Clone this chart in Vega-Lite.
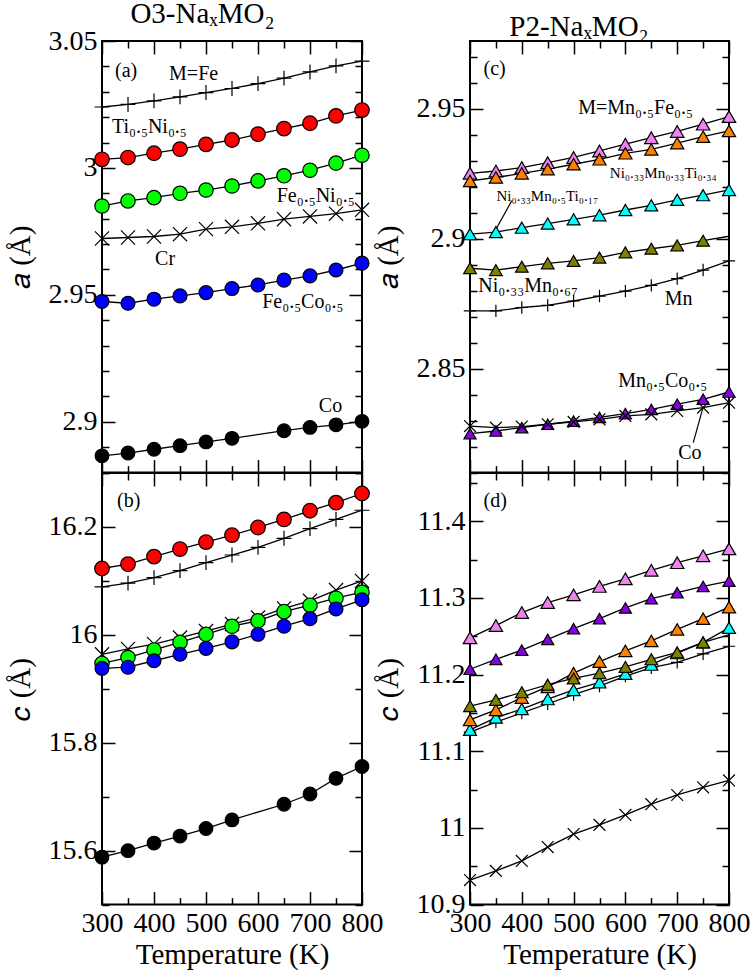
{
  "$schema": "https://vega.github.io/schema/vega-lite/v6.json",
  "padding": {"left": 5, "top": 0, "right": 0, "bottom": 0},
  "config": {
    "font": "Liberation Serif",
    "view": {"stroke": "black", "strokeWidth": 2},
    "axis": {"domain": false, "grid": false, "tickColor": "black", "tickWidth": 1.5, "labelFont": "Liberation Serif", "labelFontSize": 28, "labelColor": "black", "titleFont": "Liberation Serif", "titleFontSize": 29, "titleFontWeight": "normal", "titleColor": "black", "labelOverlap": false, "labelFlush": false, "labelBound": false},
    "title": {"font": "Liberation Serif", "fontSize": 29, "fontWeight": "normal", "color": "black"},
    "text": {"font": "Liberation Serif", "color": "black"}
  },
  "datasets": {
    "pts": [
      {"p":"a","s":"Fe","T":300,"v":3.0240},{"p":"a","s":"Fe","T":350,"v":3.0250},{"p":"a","s":"Fe","T":400,"v":3.0264},{"p":"a","s":"Fe","T":450,"v":3.0280},{"p":"a","s":"Fe","T":500,"v":3.0297},{"p":"a","s":"Fe","T":550,"v":3.0313},{"p":"a","s":"Fe","T":600,"v":3.0332},{"p":"a","s":"Fe","T":650,"v":3.0354},{"p":"a","s":"Fe","T":700,"v":3.0378},{"p":"a","s":"Fe","T":750,"v":3.0402},{"p":"a","s":"Fe","T":800,"v":3.0421},
      {"p":"a","s":"TiNi","T":300,"v":3.0034},{"p":"a","s":"TiNi","T":350,"v":3.0041},{"p":"a","s":"TiNi","T":400,"v":3.0058},{"p":"a","s":"TiNi","T":450,"v":3.0074},{"p":"a","s":"TiNi","T":500,"v":3.0093},{"p":"a","s":"TiNi","T":550,"v":3.0110},{"p":"a","s":"TiNi","T":600,"v":3.0133},{"p":"a","s":"TiNi","T":650,"v":3.0155},{"p":"a","s":"TiNi","T":700,"v":3.0176},{"p":"a","s":"TiNi","T":750,"v":3.0205},{"p":"a","s":"TiNi","T":800,"v":3.0228},
      {"p":"a","s":"FeNi","T":300,"v":2.9850},{"p":"a","s":"FeNi","T":350,"v":2.9870},{"p":"a","s":"FeNi","T":400,"v":2.9883},{"p":"a","s":"FeNi","T":450,"v":2.9900},{"p":"a","s":"FeNi","T":500,"v":2.9913},{"p":"a","s":"FeNi","T":550,"v":2.9929},{"p":"a","s":"FeNi","T":600,"v":2.9949},{"p":"a","s":"FeNi","T":650,"v":2.9969},{"p":"a","s":"FeNi","T":700,"v":2.9991},{"p":"a","s":"FeNi","T":750,"v":3.0019},{"p":"a","s":"FeNi","T":800,"v":3.0050},
      {"p":"a","s":"Cr","T":300,"v":2.9722},{"p":"a","s":"Cr","T":350,"v":2.9726},{"p":"a","s":"Cr","T":400,"v":2.9730},{"p":"a","s":"Cr","T":450,"v":2.9739},{"p":"a","s":"Cr","T":500,"v":2.9759},{"p":"a","s":"Cr","T":550,"v":2.9768},{"p":"a","s":"Cr","T":600,"v":2.9782},{"p":"a","s":"Cr","T":650,"v":2.9798},{"p":"a","s":"Cr","T":700,"v":2.9809},{"p":"a","s":"Cr","T":750,"v":2.9820},{"p":"a","s":"Cr","T":800,"v":2.9835},
      {"p":"a","s":"FeCo","T":300,"v":2.9474},{"p":"a","s":"FeCo","T":350,"v":2.9467},{"p":"a","s":"FeCo","T":400,"v":2.9483},{"p":"a","s":"FeCo","T":450,"v":2.9496},{"p":"a","s":"FeCo","T":500,"v":2.9509},{"p":"a","s":"FeCo","T":550,"v":2.9525},{"p":"a","s":"FeCo","T":600,"v":2.9539},{"p":"a","s":"FeCo","T":650,"v":2.9558},{"p":"a","s":"FeCo","T":700,"v":2.9575},{"p":"a","s":"FeCo","T":750,"v":2.9598},{"p":"a","s":"FeCo","T":800,"v":2.9625},
      {"p":"a","s":"Co","T":300,"v":2.8866},{"p":"a","s":"Co","T":350,"v":2.8877},{"p":"a","s":"Co","T":400,"v":2.8892},{"p":"a","s":"Co","T":450,"v":2.8906},{"p":"a","s":"Co","T":500,"v":2.8921},{"p":"a","s":"Co","T":550,"v":2.8935},{"p":"a","s":"Co","T":650,"v":2.8965},{"p":"a","s":"Co","T":700,"v":2.8978},{"p":"a","s":"Co","T":750,"v":2.8988},{"p":"a","s":"Co","T":800,"v":2.9002},

      {"p":"b","s":"TiNi","T":300,"v":16.123},{"p":"b","s":"TiNi","T":350,"v":16.131},{"p":"b","s":"TiNi","T":400,"v":16.145},{"p":"b","s":"TiNi","T":450,"v":16.159},{"p":"b","s":"TiNi","T":500,"v":16.172},{"p":"b","s":"TiNi","T":550,"v":16.185},{"p":"b","s":"TiNi","T":600,"v":16.199},{"p":"b","s":"TiNi","T":650,"v":16.214},{"p":"b","s":"TiNi","T":700,"v":16.230},{"p":"b","s":"TiNi","T":750,"v":16.245},{"p":"b","s":"TiNi","T":800,"v":16.262},
      {"p":"b","s":"Fe","T":300,"v":16.089},{"p":"b","s":"Fe","T":350,"v":16.096},{"p":"b","s":"Fe","T":400,"v":16.106},{"p":"b","s":"Fe","T":450,"v":16.119},{"p":"b","s":"Fe","T":500,"v":16.134},{"p":"b","s":"Fe","T":550,"v":16.148},{"p":"b","s":"Fe","T":600,"v":16.162},{"p":"b","s":"Fe","T":650,"v":16.179},{"p":"b","s":"Fe","T":700,"v":16.197},{"p":"b","s":"Fe","T":750,"v":16.214},{"p":"b","s":"Fe","T":800,"v":16.231},
      {"p":"b","s":"Cr","T":300,"v":15.964},{"p":"b","s":"Cr","T":350,"v":15.974},{"p":"b","s":"Cr","T":400,"v":15.983},{"p":"b","s":"Cr","T":450,"v":15.995},{"p":"b","s":"Cr","T":500,"v":16.007},{"p":"b","s":"Cr","T":550,"v":16.020},{"p":"b","s":"Cr","T":600,"v":16.032},{"p":"b","s":"Cr","T":650,"v":16.049},{"p":"b","s":"Cr","T":700,"v":16.063},{"p":"b","s":"Cr","T":750,"v":16.083},{"p":"b","s":"Cr","T":800,"v":16.100},
      {"p":"b","s":"FeNi","T":300,"v":15.947},{"p":"b","s":"FeNi","T":350,"v":15.958},{"p":"b","s":"FeNi","T":400,"v":15.972},{"p":"b","s":"FeNi","T":450,"v":15.986},{"p":"b","s":"FeNi","T":500,"v":16.001},{"p":"b","s":"FeNi","T":550,"v":16.016},{"p":"b","s":"FeNi","T":600,"v":16.026},{"p":"b","s":"FeNi","T":650,"v":16.043},{"p":"b","s":"FeNi","T":700,"v":16.055},{"p":"b","s":"FeNi","T":750,"v":16.068},{"p":"b","s":"FeNi","T":800,"v":16.079},
      {"p":"b","s":"FeCo","T":300,"v":15.938},{"p":"b","s":"FeCo","T":350,"v":15.940},{"p":"b","s":"FeCo","T":400,"v":15.952},{"p":"b","s":"FeCo","T":450,"v":15.964},{"p":"b","s":"FeCo","T":500,"v":15.975},{"p":"b","s":"FeCo","T":550,"v":15.987},{"p":"b","s":"FeCo","T":600,"v":16.001},{"p":"b","s":"FeCo","T":650,"v":16.016},{"p":"b","s":"FeCo","T":700,"v":16.030},{"p":"b","s":"FeCo","T":750,"v":16.048},{"p":"b","s":"FeCo","T":800,"v":16.065},
      {"p":"b","s":"Co","T":300,"v":15.588},{"p":"b","s":"Co","T":350,"v":15.600},{"p":"b","s":"Co","T":400,"v":15.614},{"p":"b","s":"Co","T":450,"v":15.627},{"p":"b","s":"Co","T":500,"v":15.641},{"p":"b","s":"Co","T":550,"v":15.657},{"p":"b","s":"Co","T":650,"v":15.686},{"p":"b","s":"Co","T":700,"v":15.705},{"p":"b","s":"Co","T":750,"v":15.734},{"p":"b","s":"Co","T":800,"v":15.756},

      {"p":"c","s":"MnFe","T":300,"v":2.9251},{"p":"c","s":"MnFe","T":350,"v":2.9260},{"p":"c","s":"MnFe","T":400,"v":2.9273},{"p":"c","s":"MnFe","T":450,"v":2.9292},{"p":"c","s":"MnFe","T":500,"v":2.9312},{"p":"c","s":"MnFe","T":550,"v":2.9337},{"p":"c","s":"MnFe","T":600,"v":2.9363},{"p":"c","s":"MnFe","T":650,"v":2.9388},{"p":"c","s":"MnFe","T":700,"v":2.9412},{"p":"c","s":"MnFe","T":750,"v":2.9440},{"p":"c","s":"MnFe","T":800,"v":2.9469},
      {"p":"c","s":"NiMnTi34","T":300,"v":2.9222},{"p":"c","s":"NiMnTi34","T":350,"v":2.9235},{"p":"c","s":"NiMnTi34","T":400,"v":2.9251},{"p":"c","s":"NiMnTi34","T":450,"v":2.9267},{"p":"c","s":"NiMnTi34","T":500,"v":2.9286},{"p":"c","s":"NiMnTi34","T":550,"v":2.9305},{"p":"c","s":"NiMnTi34","T":600,"v":2.9328},{"p":"c","s":"NiMnTi34","T":650,"v":2.9343},{"p":"c","s":"NiMnTi34","T":700,"v":2.9367},{"p":"c","s":"NiMnTi34","T":750,"v":2.9392},{"p":"c","s":"NiMnTi34","T":800,"v":2.9414},
      {"p":"c","s":"NiMnTi17","T":300,"v":2.9017},{"p":"c","s":"NiMnTi17","T":350,"v":2.9025},{"p":"c","s":"NiMnTi17","T":400,"v":2.9042},{"p":"c","s":"NiMnTi17","T":450,"v":2.9058},{"p":"c","s":"NiMnTi17","T":500,"v":2.9074},{"p":"c","s":"NiMnTi17","T":550,"v":2.9090},{"p":"c","s":"NiMnTi17","T":600,"v":2.9110},{"p":"c","s":"NiMnTi17","T":650,"v":2.9128},{"p":"c","s":"NiMnTi17","T":700,"v":2.9149},{"p":"c","s":"NiMnTi17","T":750,"v":2.9167},{"p":"c","s":"NiMnTi17","T":800,"v":2.9187},
      {"p":"c","s":"NiMn","T":300,"v":2.8886},{"p":"c","s":"NiMn","T":350,"v":2.8879},{"p":"c","s":"NiMn","T":400,"v":2.8892},{"p":"c","s":"NiMn","T":450,"v":2.8905},{"p":"c","s":"NiMn","T":500,"v":2.8914},{"p":"c","s":"NiMn","T":550,"v":2.8927},{"p":"c","s":"NiMn","T":600,"v":2.8947},{"p":"c","s":"NiMn","T":650,"v":2.8961},{"p":"c","s":"NiMn","T":700,"v":2.8974},{"p":"c","s":"NiMn","T":750,"v":2.8992},{"p":"c","s":"NiMn","T":800,"v":2.9009},
      {"p":"c","s":"Mn","T":300,"v":2.8722},{"p":"c","s":"Mn","T":350,"v":2.8722},{"p":"c","s":"Mn","T":400,"v":2.8735},{"p":"c","s":"Mn","T":450,"v":2.8743},{"p":"c","s":"Mn","T":500,"v":2.8760},{"p":"c","s":"Mn","T":550,"v":2.8779},{"p":"c","s":"Mn","T":600,"v":2.8798},{"p":"c","s":"Mn","T":650,"v":2.8820},{"p":"c","s":"Mn","T":700,"v":2.8846},{"p":"c","s":"Mn","T":750,"v":2.8879},{"p":"c","s":"Mn","T":800,"v":2.8914},
      {"p":"c","s":"MnCo","T":300,"v":2.8250},{"p":"c","s":"MnCo","T":350,"v":2.8260},{"p":"c","s":"MnCo","T":400,"v":2.8273},{"p":"c","s":"MnCo","T":450,"v":2.8286},{"p":"c","s":"MnCo","T":500,"v":2.8298},{"p":"c","s":"MnCo","T":550,"v":2.8312},{"p":"c","s":"MnCo","T":600,"v":2.8327},{"p":"c","s":"MnCo","T":650,"v":2.8343},{"p":"c","s":"MnCo","T":700,"v":2.8363},{"p":"c","s":"MnCo","T":750,"v":2.8382},{"p":"c","s":"MnCo","T":800,"v":2.8410},
      {"p":"c","s":"CoP","T":300,"v":2.8279},{"p":"c","s":"CoP","T":350,"v":2.8273},{"p":"c","s":"CoP","T":400,"v":2.8277},{"p":"c","s":"CoP","T":450,"v":2.8286},{"p":"c","s":"CoP","T":500,"v":2.8295},{"p":"c","s":"CoP","T":550,"v":2.8305},{"p":"c","s":"CoP","T":600,"v":2.8318},{"p":"c","s":"CoP","T":650,"v":2.8324},{"p":"c","s":"CoP","T":700,"v":2.8337},{"p":"c","s":"CoP","T":750,"v":2.8350},{"p":"c","s":"CoP","T":800,"v":2.8369},

      {"p":"d","s":"MnFe","T":300,"v":11.248},{"p":"d","s":"MnFe","T":350,"v":11.264},{"p":"d","s":"MnFe","T":400,"v":11.281},{"p":"d","s":"MnFe","T":450,"v":11.294},{"p":"d","s":"MnFe","T":500,"v":11.304},{"p":"d","s":"MnFe","T":550,"v":11.315},{"p":"d","s":"MnFe","T":600,"v":11.325},{"p":"d","s":"MnFe","T":650,"v":11.336},{"p":"d","s":"MnFe","T":700,"v":11.346},{"p":"d","s":"MnFe","T":750,"v":11.355},{"p":"d","s":"MnFe","T":800,"v":11.364},
      {"p":"d","s":"MnCo","T":300,"v":11.207},{"p":"d","s":"MnCo","T":350,"v":11.220},{"p":"d","s":"MnCo","T":400,"v":11.232},{"p":"d","s":"MnCo","T":450,"v":11.246},{"p":"d","s":"MnCo","T":500,"v":11.260},{"p":"d","s":"MnCo","T":550,"v":11.273},{"p":"d","s":"MnCo","T":600,"v":11.287},{"p":"d","s":"MnCo","T":650,"v":11.299},{"p":"d","s":"MnCo","T":700,"v":11.307},{"p":"d","s":"MnCo","T":750,"v":11.315},{"p":"d","s":"MnCo","T":800,"v":11.322},
      {"p":"d","s":"Mn","T":300,"v":11.125},{"p":"d","s":"Mn","T":350,"v":11.138},{"p":"d","s":"Mn","T":400,"v":11.150},{"p":"d","s":"Mn","T":450,"v":11.162},{"p":"d","s":"Mn","T":500,"v":11.174},{"p":"d","s":"Mn","T":550,"v":11.185},{"p":"d","s":"Mn","T":600,"v":11.198},{"p":"d","s":"Mn","T":650,"v":11.209},{"p":"d","s":"Mn","T":700,"v":11.216},{"p":"d","s":"Mn","T":750,"v":11.227},{"p":"d","s":"Mn","T":800,"v":11.237},
      {"p":"d","s":"NiMnTi17","T":300,"v":11.128},{"p":"d","s":"NiMnTi17","T":350,"v":11.144},{"p":"d","s":"NiMnTi17","T":400,"v":11.155},{"p":"d","s":"NiMnTi17","T":450,"v":11.168},{"p":"d","s":"NiMnTi17","T":500,"v":11.180},{"p":"d","s":"NiMnTi17","T":550,"v":11.190},{"p":"d","s":"NiMnTi17","T":600,"v":11.201},{"p":"d","s":"NiMnTi17","T":650,"v":11.213},{"p":"d","s":"NiMnTi17","T":700,"v":11.228},{"p":"d","s":"NiMnTi17","T":750,"v":11.242},{"p":"d","s":"NiMnTi17","T":800,"v":11.261},
      {"p":"d","s":"NiMnTi34","T":300,"v":11.141},{"p":"d","s":"NiMnTi34","T":350,"v":11.154},{"p":"d","s":"NiMnTi34","T":400,"v":11.170},{"p":"d","s":"NiMnTi34","T":450,"v":11.184},{"p":"d","s":"NiMnTi34","T":500,"v":11.202},{"p":"d","s":"NiMnTi34","T":550,"v":11.217},{"p":"d","s":"NiMnTi34","T":600,"v":11.231},{"p":"d","s":"NiMnTi34","T":650,"v":11.244},{"p":"d","s":"NiMnTi34","T":700,"v":11.259},{"p":"d","s":"NiMnTi34","T":750,"v":11.273},{"p":"d","s":"NiMnTi34","T":800,"v":11.288},
      {"p":"d","s":"NiMn","T":300,"v":11.159},{"p":"d","s":"NiMn","T":350,"v":11.167},{"p":"d","s":"NiMn","T":400,"v":11.177},{"p":"d","s":"NiMn","T":450,"v":11.187},{"p":"d","s":"NiMn","T":500,"v":11.195},{"p":"d","s":"NiMn","T":550,"v":11.202},{"p":"d","s":"NiMn","T":600,"v":11.210},{"p":"d","s":"NiMn","T":650,"v":11.220},{"p":"d","s":"NiMn","T":700,"v":11.229},{"p":"d","s":"NiMn","T":750,"v":11.242},{"p":"d","s":"NiMn","T":800,"v":11.252},
      {"p":"d","s":"CoP","T":300,"v":10.932},{"p":"d","s":"CoP","T":350,"v":10.944},{"p":"d","s":"CoP","T":400,"v":10.957},{"p":"d","s":"CoP","T":450,"v":10.975},{"p":"d","s":"CoP","T":500,"v":10.992},{"p":"d","s":"CoP","T":550,"v":11.004},{"p":"d","s":"CoP","T":600,"v":11.017},{"p":"d","s":"CoP","T":650,"v":11.031},{"p":"d","s":"CoP","T":700,"v":11.043},{"p":"d","s":"CoP","T":750,"v":11.053},{"p":"d","s":"CoP","T":800,"v":11.062}
    ],
    "lab": [
      {"p":"a","T":325,"v":3.038,"t":"(a)","k":"n"},
      {"p":"a","T":429,"v":3.0369,"t":"M=Fe","k":"n"},
      {"p":"a","T":319,"v":3.016,"t":"Ti₀.₅Ni₀.₅","k":"n"},
      {"p":"a","T":636,"v":2.9889,"t":"Fe₀.₅Ni₀.₅","k":"n"},
      {"p":"a","T":402,"v":2.964,"t":"Cr","k":"n"},
      {"p":"a","T":608,"v":2.947,"t":"Fe₀.₅Co₀.₅","k":"n"},
      {"p":"a","T":717,"v":2.9063,"t":"Co","k":"n"},
      {"p":"b","T":329,"v":16.248,"t":"(b)","k":"n"},
      {"p":"c","T":326,"v":2.9651,"t":"(c)","k":"n"},
      {"p":"c","T":509,"v":2.9504,"t":"M=Mn₀.₅Fe₀.₅","k":"n"},
      {"p":"c","T":570,"v":2.9254,"t":"Ni₀.₃₃Mn₀.₃₃Ti₀.₃₄","k":"s"},
      {"p":"c","T":351,"v":2.9164,"t":"Ni₀.₃₃Mn₀.₅Ti₀.₁₇","k":"s"},
      {"p":"c","T":316,"v":2.8818,"t":"Ni₀.₃₃Mn₀.₆₇","k":"n"},
      {"p":"c","T":676,"v":2.8767,"t":"Mn","k":"n"},
      {"p":"c","T":586,"v":2.8452,"t":"Mn₀.₅Co₀.₅","k":"n"},
      {"p":"c","T":702,"v":2.8174,"t":"Co","k":"n"},
      {"p":"d","T":326,"v":11.426,"t":"(d)","k":"n"}
    ],
    "lead": [
      {"p":"c","T":380.6,"v":2.9145,"T2":351.6,"v2":2.9042},
      {"p":"c","T":731,"v":2.8215,"T2":750.6,"v2":2.8356}
    ]
  },
  "hconcat": [
    {
      "title": {"text": "O3-NaₓMO₂", "anchor": "middle", "fontSize": 29, "offset": -3, "dx": 8},
      "spacing": 0,
      "bounds": "flush",
      "vconcat": [
        {
          "width": 260, "height": 431.6,
          "resolve": {"axis": {"x": "independent", "y": "independent"}},
          "layer": [
            {
              "data": {"name": "pts"}, "transform": [{"filter": "datum.p == 'a'"}],
              "mark": {"type": "line", "color": "black", "strokeWidth": 1.3},
              "encoding": {
                "x": {"field": "T", "type": "quantitative", "scale": {"domain": [300, 800], "nice": false, "zero": false},
                  "axis": {"orient": "bottom", "values": [300,350,400,450,500,550,600,650,700,750,800], "tickSize": {"condition": {"test": "datum.value % 100 == 0", "value": -13}, "value": -7}, "labels": false, "title": null}},
                "y": {"field": "v", "type": "quantitative", "scale": {"domain": [2.88, 3.05], "nice": false, "zero": false},
                  "axis": {"orient": "left", "values": [2.88,2.89,2.9,2.91,2.92,2.93,2.94,2.95,2.96,2.97,2.98,2.99,3,3.01,3.02,3.03,3.04,3.05], "tickSize": {"condition": {"test": "indexof([2.9,2.95,3,3.05], datum.value) >= 0", "value": -13}, "value": -7}, "labelExpr": "indexof([2.9,2.95,3,3.05], datum.value) >= 0 ? toString(datum.value) : ''", "labelPadding": 18, "title": "𝑎 (Å)", "titlePadding": 13}},
                "detail": {"field": "s"}
              }
            },
            {
              "data": {"name": "pts"}, "transform": [{"filter": "datum.p == 'a'"}],
              "mark": {"type": "point", "filled": true, "stroke": "black", "strokeWidth": 1.2, "opacity": 1},
              "encoding": {
                "x": {"field": "T", "type": "quantitative", "axis": null},
                "y": {"field": "v", "type": "quantitative", "axis": null},
                "fill": {"field": "s", "type": "nominal", "legend": null, "scale": {"domain": ["Fe","TiNi","FeNi","Cr","FeCo","Co","MnFe","NiMnTi34","NiMnTi17","NiMn","Mn","MnCo","CoP"], "range": ["transparent","#ff0000","#00ff00","transparent","#0000ff","#000000","#ee82ee","#ff8000","#00ffff","#808000","transparent","#8a00e6","transparent"]}},
                "shape": {"field": "s", "type": "nominal", "legend": null, "scale": {"domain": ["Fe","TiNi","FeNi","Cr","FeCo","Co","MnFe","NiMnTi34","NiMnTi17","NiMn","Mn","MnCo","CoP"], "range": ["M-1,0H1M0,-1V1","circle","circle","M-1,-1L1,1M-1,1L1,-1","circle","circle","triangle-up","triangle-up","triangle-up","triangle-up","M-1,0H1M0,-1V1","triangle-up","M-1,-1L1,1M-1,1L1,-1"]}},
                "size": {"field": "s", "type": "nominal", "legend": null, "scale": {"domain": ["Fe","TiNi","FeNi","Cr","FeCo","Co","MnFe","NiMnTi34","NiMnTi17","NiMn","Mn","MnCo","CoP"], "range": [220,140,140,160,140,140,160,160,160,160,220,160,170]}}
              }
            },
            {
              "data": {"name": "lab"}, "transform": [{"filter": "datum.p == 'a'"}],
              "mark": {"type": "text", "align": "left", "baseline": "middle", "fontSize": 20},
              "encoding": {
                "x": {"field": "T", "type": "quantitative", "axis": null},
                "y": {"field": "v", "type": "quantitative", "axis": null},
                "text": {"field": "t"}
              }
            },
            {
              "data": {"name": "pts"}, "transform": [{"filter": "datum.p == 'a'"}],
              "mark": {"type": "point", "opacity": 0},
              "encoding": {
                "x": {"field": "T", "type": "quantitative", "axis": {"orient": "top", "values": [300,350,400,450,500,550,600,650,700,750,800], "tickSize": {"condition": {"test": "datum.value % 100 == 0", "value": -13}, "value": -7}, "labels": false, "title": null}},
                "y": {"field": "v", "type": "quantitative", "axis": {"orient": "right", "values": [2.88,2.89,2.9,2.91,2.92,2.93,2.94,2.95,2.96,2.97,2.98,2.99,3,3.01,3.02,3.03,3.04,3.05], "tickSize": {"condition": {"test": "indexof([2.9,2.95,3,3.05], datum.value) >= 0", "value": -13}, "value": -7}, "labels": false, "title": null}}
              }
            }
          ]
        },
        {
          "width": 260, "height": 431.6,
          "resolve": {"axis": {"x": "independent", "y": "independent"}},
          "layer": [
            {
              "data": {"name": "pts"}, "transform": [{"filter": "datum.p == 'b'"}],
              "mark": {"type": "line", "color": "black", "strokeWidth": 1.3},
              "encoding": {
                "x": {"field": "T", "type": "quantitative", "scale": {"domain": [300, 800], "nice": false, "zero": false},
                  "axis": {"orient": "bottom", "values": [300,350,400,450,500,550,600,650,700,750,800], "tickSize": {"condition": {"test": "datum.value % 100 == 0", "value": -13}, "value": -7}, "labelExpr": "datum.value % 100 == 0 ? toString(datum.value) : ''", "labelPadding": 18, "title": "Temperature (K)", "titlePadding": -3}},
                "y": {"field": "v", "type": "quantitative", "scale": {"domain": [15.5, 16.3], "nice": false, "zero": false},
                  "axis": {"orient": "left", "values": [15.5,15.6,15.7,15.8,15.9,16,16.1,16.2,16.3], "tickSize": {"condition": {"test": "indexof([15.6,15.8,16,16.2], datum.value) >= 0", "value": -13}, "value": -7}, "labelExpr": "indexof([15.6,15.8,16,16.2], datum.value) >= 0 ? toString(datum.value) : ''", "labelPadding": 18, "title": "𝑐 (Å)", "titlePadding": 13}},
                "detail": {"field": "s"}
              }
            },
            {
              "data": {"name": "pts"}, "transform": [{"filter": "datum.p == 'b'"}],
              "mark": {"type": "point", "filled": true, "stroke": "black", "strokeWidth": 1.2, "opacity": 1},
              "encoding": {
                "x": {"field": "T", "type": "quantitative", "axis": null},
                "y": {"field": "v", "type": "quantitative", "axis": null},
                "fill": {"field": "s", "type": "nominal", "legend": null, "scale": {"domain": ["Fe","TiNi","FeNi","Cr","FeCo","Co","MnFe","NiMnTi34","NiMnTi17","NiMn","Mn","MnCo","CoP"], "range": ["transparent","#ff0000","#00ff00","transparent","#0000ff","#000000","#ee82ee","#ff8000","#00ffff","#808000","transparent","#8a00e6","transparent"]}},
                "shape": {"field": "s", "type": "nominal", "legend": null, "scale": {"domain": ["Fe","TiNi","FeNi","Cr","FeCo","Co","MnFe","NiMnTi34","NiMnTi17","NiMn","Mn","MnCo","CoP"], "range": ["M-1,0H1M0,-1V1","circle","circle","M-1,-1L1,1M-1,1L1,-1","circle","circle","triangle-up","triangle-up","triangle-up","triangle-up","M-1,0H1M0,-1V1","triangle-up","M-1,-1L1,1M-1,1L1,-1"]}},
                "size": {"field": "s", "type": "nominal", "legend": null, "scale": {"domain": ["Fe","TiNi","FeNi","Cr","FeCo","Co","MnFe","NiMnTi34","NiMnTi17","NiMn","Mn","MnCo","CoP"], "range": [220,140,140,160,140,140,160,160,160,160,220,160,170]}}
              }
            },
            {
              "data": {"name": "lab"}, "transform": [{"filter": "datum.p == 'b'"}],
              "mark": {"type": "text", "align": "left", "baseline": "middle", "fontSize": 20},
              "encoding": {
                "x": {"field": "T", "type": "quantitative", "axis": null},
                "y": {"field": "v", "type": "quantitative", "axis": null},
                "text": {"field": "t"}
              }
            },
            {
              "data": {"name": "pts"}, "transform": [{"filter": "datum.p == 'b'"}],
              "mark": {"type": "point", "opacity": 0},
              "encoding": {
                "x": {"field": "T", "type": "quantitative", "axis": {"orient": "top", "values": [300,350,400,450,500,550,600,650,700,750,800], "tickSize": {"condition": {"test": "datum.value % 100 == 0", "value": -13}, "value": -7}, "labels": false, "title": null}},
                "y": {"field": "v", "type": "quantitative", "axis": {"orient": "right", "values": [15.5,15.6,15.7,15.8,15.9,16,16.1,16.2,16.3], "tickSize": {"condition": {"test": "indexof([15.6,15.8,16,16.2], datum.value) >= 0", "value": -13}, "value": -7}, "labels": false, "title": null}}
              }
            }
          ]
        }
      ]
    },
    {
      "title": {"text": "P2-NaₓMO₂", "anchor": "middle", "fontSize": 29, "offset": -3, "dx": 17},
      "spacing": 0,
      "bounds": "flush",
      "vconcat": [
        {
          "width": 259, "height": 431.6,
          "resolve": {"axis": {"x": "independent", "y": "independent"}},
          "layer": [
            {
              "data": {"name": "pts"}, "transform": [{"filter": "datum.p == 'c'"}],
              "mark": {"type": "line", "color": "black", "strokeWidth": 1.3},
              "encoding": {
                "x": {"field": "T", "type": "quantitative", "scale": {"domain": [300, 800], "nice": false, "zero": false},
                  "axis": {"orient": "bottom", "values": [300,350,400,450,500,550,600,650,700,750,800], "tickSize": {"condition": {"test": "datum.value % 100 == 0", "value": -13}, "value": -7}, "labels": false, "title": null}},
                "y": {"field": "v", "type": "quantitative", "scale": {"domain": [2.81, 2.976], "nice": false, "zero": false},
                  "axis": {"orient": "left", "values": [2.81,2.82,2.83,2.84,2.85,2.86,2.87,2.88,2.89,2.9,2.91,2.92,2.93,2.94,2.95,2.96,2.97], "tickSize": {"condition": {"test": "indexof([2.85,2.9,2.95], datum.value) >= 0", "value": -13}, "value": -7}, "labelExpr": "indexof([2.85,2.9,2.95], datum.value) >= 0 ? toString(datum.value) : ''", "labelPadding": 18, "title": "𝑎 (Å)", "titlePadding": 13}},
                "detail": {"field": "s"}
              }
            },
            {
              "data": {"name": "lead"}, "transform": [{"filter": "datum.p == 'c'"}],
              "mark": {"type": "rule", "color": "black", "strokeWidth": 1.2},
              "encoding": {
                "x": {"field": "T", "type": "quantitative", "axis": null},
                "y": {"field": "v", "type": "quantitative", "axis": null},
                "x2": {"field": "T2"},
                "y2": {"field": "v2"}
              }
            },
            {
              "data": {"name": "pts"}, "transform": [{"filter": "datum.p == 'c' && !(datum.s == 'NiMn' && datum.T == 800)"}],
              "mark": {"type": "point", "filled": true, "stroke": "black", "strokeWidth": 1.2, "opacity": 1},
              "encoding": {
                "x": {"field": "T", "type": "quantitative", "axis": null},
                "y": {"field": "v", "type": "quantitative", "axis": null},
                "fill": {"field": "s", "type": "nominal", "legend": null, "scale": {"domain": ["Fe","TiNi","FeNi","Cr","FeCo","Co","MnFe","NiMnTi34","NiMnTi17","NiMn","Mn","MnCo","CoP"], "range": ["transparent","#ff0000","#00ff00","transparent","#0000ff","#000000","#ee82ee","#ff8000","#00ffff","#808000","transparent","#8a00e6","transparent"]}},
                "shape": {"field": "s", "type": "nominal", "legend": null, "scale": {"domain": ["Fe","TiNi","FeNi","Cr","FeCo","Co","MnFe","NiMnTi34","NiMnTi17","NiMn","Mn","MnCo","CoP"], "range": ["M-1,0H1M0,-1V1","circle","circle","M-1,-1L1,1M-1,1L1,-1","circle","circle","triangle-up","triangle-up","triangle-up","triangle-up","M-1,0H1M0,-1V1","triangle-up","M-1,-1L1,1M-1,1L1,-1"]}},
                "size": {"field": "s", "type": "nominal", "legend": null, "scale": {"domain": ["Fe","TiNi","FeNi","Cr","FeCo","Co","MnFe","NiMnTi34","NiMnTi17","NiMn","Mn","MnCo","CoP"], "range": [220,140,140,160,140,140,160,160,160,160,220,160,170]}}
              }
            },
            {
              "data": {"name": "lab"}, "transform": [{"filter": "datum.p == 'c' && datum.k == 'n'"}],
              "mark": {"type": "text", "align": "left", "baseline": "middle", "fontSize": 20},
              "encoding": {
                "x": {"field": "T", "type": "quantitative", "axis": null},
                "y": {"field": "v", "type": "quantitative", "axis": null},
                "text": {"field": "t"}
              }
            },
            {
              "data": {"name": "lab"}, "transform": [{"filter": "datum.p == 'c' && datum.k == 's'"}],
              "mark": {"type": "text", "align": "left", "baseline": "middle", "fontSize": 15},
              "encoding": {
                "x": {"field": "T", "type": "quantitative", "axis": null},
                "y": {"field": "v", "type": "quantitative", "axis": null},
                "text": {"field": "t"}
              }
            },
            {
              "data": {"name": "pts"}, "transform": [{"filter": "datum.p == 'c'"}],
              "mark": {"type": "point", "opacity": 0},
              "encoding": {
                "x": {"field": "T", "type": "quantitative", "axis": {"orient": "top", "values": [300,350,400,450,500,550,600,650,700,750,800], "tickSize": {"condition": {"test": "datum.value % 100 == 0", "value": -13}, "value": -7}, "labels": false, "title": null}},
                "y": {"field": "v", "type": "quantitative", "axis": {"orient": "right", "values": [2.81,2.82,2.83,2.84,2.85,2.86,2.87,2.88,2.89,2.9,2.91,2.92,2.93,2.94,2.95,2.96,2.97], "tickSize": {"condition": {"test": "indexof([2.85,2.9,2.95], datum.value) >= 0", "value": -13}, "value": -7}, "labels": false, "title": null}}
              }
            }
          ]
        },
        {
          "width": 259, "height": 431.6,
          "resolve": {"axis": {"x": "independent", "y": "independent"}},
          "layer": [
            {
              "data": {"name": "pts"}, "transform": [{"filter": "datum.p == 'd'"}],
              "mark": {"type": "line", "color": "black", "strokeWidth": 1.3},
              "encoding": {
                "x": {"field": "T", "type": "quantitative", "scale": {"domain": [300, 800], "nice": false, "zero": false},
                  "axis": {"orient": "bottom", "values": [300,350,400,450,500,550,600,650,700,750,800], "tickSize": {"condition": {"test": "datum.value % 100 == 0", "value": -13}, "value": -7}, "labelExpr": "datum.value % 100 == 0 ? toString(datum.value) : ''", "labelPadding": 18, "title": "Temperature (K)", "titlePadding": -3}},
                "y": {"field": "v", "type": "quantitative", "scale": {"domain": [10.9, 11.463], "nice": false, "zero": false},
                  "axis": {"orient": "left", "values": [10.9,10.95,11,11.05,11.1,11.15,11.2,11.25,11.3,11.35,11.4,11.45], "tickSize": {"condition": {"test": "indexof([10.9,11,11.1,11.2,11.3,11.4], datum.value) >= 0", "value": -13}, "value": -7}, "labelExpr": "indexof([10.9,11,11.1,11.2,11.3,11.4], datum.value) >= 0 ? toString(datum.value) : ''", "labelPadding": 18, "title": "𝑐 (Å)", "titlePadding": 13}},
                "detail": {"field": "s"}
              }
            },
            {
              "data": {"name": "pts"}, "transform": [{"filter": "datum.p == 'd' && !(datum.s == 'NiMn' && datum.T == 800)"}],
              "mark": {"type": "point", "filled": true, "stroke": "black", "strokeWidth": 1.2, "opacity": 1},
              "encoding": {
                "x": {"field": "T", "type": "quantitative", "axis": null},
                "y": {"field": "v", "type": "quantitative", "axis": null},
                "fill": {"field": "s", "type": "nominal", "legend": null, "scale": {"domain": ["Fe","TiNi","FeNi","Cr","FeCo","Co","MnFe","NiMnTi34","NiMnTi17","NiMn","Mn","MnCo","CoP"], "range": ["transparent","#ff0000","#00ff00","transparent","#0000ff","#000000","#ee82ee","#ff8000","#00ffff","#808000","transparent","#8a00e6","transparent"]}},
                "shape": {"field": "s", "type": "nominal", "legend": null, "scale": {"domain": ["Fe","TiNi","FeNi","Cr","FeCo","Co","MnFe","NiMnTi34","NiMnTi17","NiMn","Mn","MnCo","CoP"], "range": ["M-1,0H1M0,-1V1","circle","circle","M-1,-1L1,1M-1,1L1,-1","circle","circle","triangle-up","triangle-up","triangle-up","triangle-up","M-1,0H1M0,-1V1","triangle-up","M-1,-1L1,1M-1,1L1,-1"]}},
                "size": {"field": "s", "type": "nominal", "legend": null, "scale": {"domain": ["Fe","TiNi","FeNi","Cr","FeCo","Co","MnFe","NiMnTi34","NiMnTi17","NiMn","Mn","MnCo","CoP"], "range": [220,140,140,160,140,140,160,160,160,160,220,160,170]}}
              }
            },
            {
              "data": {"name": "lab"}, "transform": [{"filter": "datum.p == 'd'"}],
              "mark": {"type": "text", "align": "left", "baseline": "middle", "fontSize": 20},
              "encoding": {
                "x": {"field": "T", "type": "quantitative", "axis": null},
                "y": {"field": "v", "type": "quantitative", "axis": null},
                "text": {"field": "t"}
              }
            },
            {
              "data": {"name": "pts"}, "transform": [{"filter": "datum.p == 'd'"}],
              "mark": {"type": "point", "opacity": 0},
              "encoding": {
                "x": {"field": "T", "type": "quantitative", "axis": {"orient": "top", "values": [300,350,400,450,500,550,600,650,700,750,800], "tickSize": {"condition": {"test": "datum.value % 100 == 0", "value": -13}, "value": -7}, "labels": false, "title": null}},
                "y": {"field": "v", "type": "quantitative", "axis": {"orient": "right", "values": [10.9,10.95,11,11.05,11.1,11.15,11.2,11.25,11.3,11.35,11.4,11.45], "tickSize": {"condition": {"test": "indexof([10.9,11,11.1,11.2,11.3,11.4], datum.value) >= 0", "value": -13}, "value": -7}, "labels": false, "title": null}}
              }
            }
          ]
        }
      ]
    }
  ],
  "spacing": -11
}
